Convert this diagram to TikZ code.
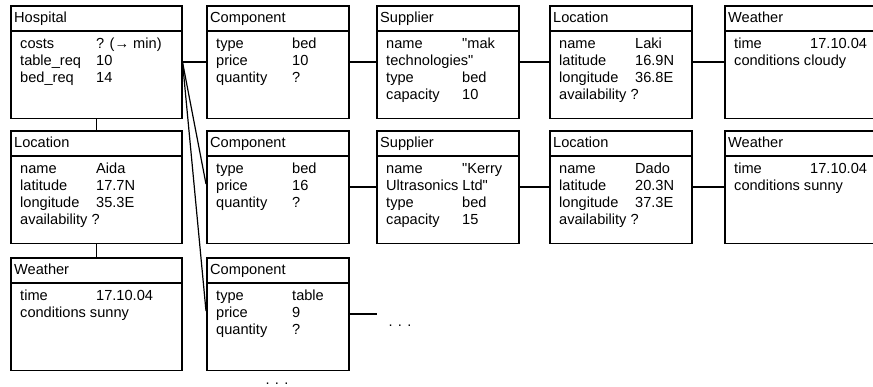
\documentclass[tikz,border=0pt]{standalone}
\usepackage{fontspec}
% family without TeX ligatures, so " stays a straight quote
\newfontfamily\labelfont{Liberation Sans}
\begin{document}
\begin{tikzpicture}[x=1pt,y=-1pt,
  box/.style={draw, line width=1.5pt, minimum height=112.5pt, anchor=north west, inner sep=0pt},
  sep/.style={line width=1.5pt},
  ttl/.style={anchor=base west, inner sep=0pt, font=\labelfont\fontsize{14.6}{17}\selectfont},
  attrs/.style={anchor=north west, inner sep=0pt, align=left, font=\labelfont\fontsize{14.6}{17}\selectfont},
  link/.style={line width=1.2pt},
  more/.style={anchor=base, inner sep=0pt, font=\labelfont\fontsize{14.6}{17}\selectfont}]
\useasboundingbox (0,0) rectangle (873,386);
\clip (0,0) rectangle (873,386);

% one class box: name, x, y, width, title, attribute rows
\newcommand\umlbox[6]{%
  \node[box, minimum width=#4pt] (#1) at (#2,#3) {};
  \node[ttl] (#1-t) at ([xshift=4pt,yshift=-17pt]#1.north west) {#5};
  \draw[sep] ([yshift=-26pt]#1.north west) -- ([yshift=-26pt]#1.north east);
  \node[attrs] (#1-a) at ([xshift=10pt,yshift=-31pt]#1.north west)
    {\begin{tabular}{@{}p{76pt}@{}l@{}}#6\end{tabular}};
}
% a row written as one run of text
\newcommand\wide[1]{\multicolumn{2}{@{}l@{}}{#1}}

% left column
\umlbox{h}{10}{5}{171}{Hospital}{costs & ? (→ min)\\ table\_req & 10\\ bed\_req & 14}
\umlbox{l0}{10}{130}{171}{Location}{name & Aida\\ latitude & 17.7N\\ longitude & 35.3E\\ \wide{availability ?}}
\umlbox{w0}{10}{257}{171}{Weather}{time & 17.10.04\\ \wide{conditions sunny}}

% first chain
\umlbox{c1}{206}{5}{142}{Component}{type & bed\\ price & 10\\ quantity & ?}
\umlbox{s1}{376}{5}{142}{Supplier}{name & "mak\\ \wide{technologies"}\\ type & bed\\ capacity & 10}
\umlbox{l1}{549}{5}{142}{Location}{name & Laki\\ latitude & 16.9N\\ longitude & 36.8E\\ \wide{availability ?}}
\umlbox{w1}{724}{5}{160}{Weather}{time & 17.10.04\\ \wide{conditions cloudy}}

% second chain
\umlbox{c2}{206}{130}{142}{Component}{type & bed\\ price & 16\\ quantity & ?}
\umlbox{s2}{376}{130}{142}{Supplier}{name & "Kerry\\ \wide{Ultrasonics Ltd"}\\ type & bed\\ capacity & 15}
\umlbox{l2}{549}{130}{142}{Location}{name & Dado\\ latitude & 20.3N\\ longitude & 37.3E\\ \wide{availability ?}}
\umlbox{w2}{724}{130}{160}{Weather}{time & 17.10.04\\ \wide{conditions sunny}}

% third component
\umlbox{c3}{206}{257}{142}{Component}{type & table\\ price & 9\\ quantity & ?}

% links
\draw[link] (h.south) -- (l0.north);
\draw[link] (l0.south) -- (w0.north);

\draw[link] ([yshift=-57pt]h.north east) -- ([yshift=-57pt]c1.north west);
\draw[link] ([yshift=-57pt]h.north east) -- ([yshift=-54pt]c2.north west);
\draw[link] ([yshift=-57pt]h.north east) -- ([yshift=-54pt]c3.north west);

\draw[link] ([yshift=-57pt]c1.north east) -- ([yshift=-57pt]s1.north west);
\draw[link] ([yshift=-57pt]s1.north east) -- ([yshift=-57pt]l1.north west);
\draw[link] ([yshift=-57pt]l1.north east) -- ([yshift=-57pt]w1.north west);

\draw[link] ([yshift=-57pt]c2.north east) -- ([yshift=-57pt]s2.north west);
\draw[link] ([yshift=-57pt]s2.north east) -- ([yshift=-57pt]l2.north west);
\draw[link] ([yshift=-57pt]l2.north east) -- ([yshift=-57pt]w2.north west);

\coordinate (c3end) at (377,314);
\draw[link] ([yshift=-57pt]c3.north east) -- (c3end);

% continuation marks
\node[more] (dots1) at (400,326) {. . .};
\node[more] (dots2) at (277,384) {. . .};
\end{tikzpicture}
\end{document}
